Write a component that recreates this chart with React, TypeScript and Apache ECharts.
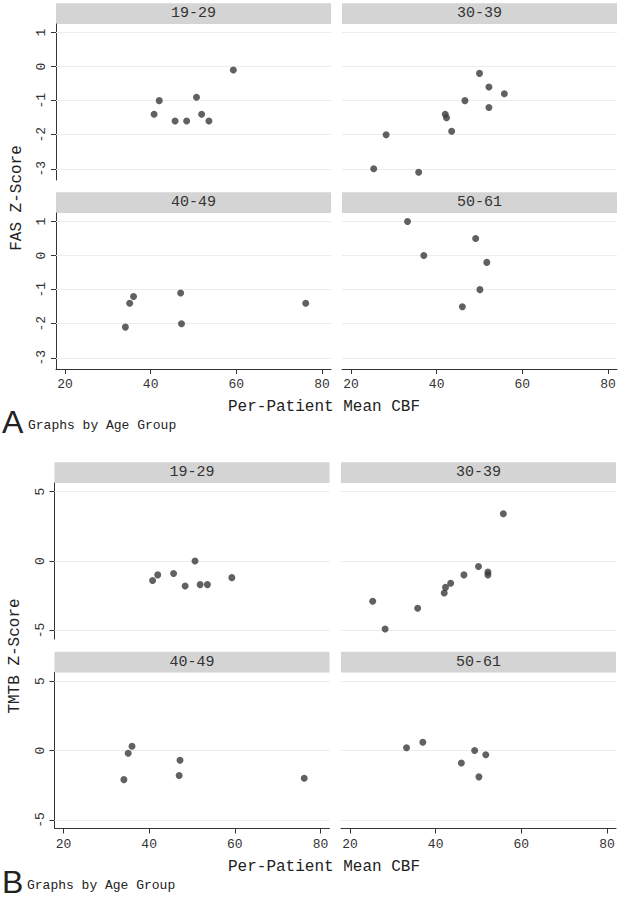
import React, { useEffect, useRef } from "react";
import * as echarts from "echarts";

// Age-group panels
const ageGroups = ["19-29", "30-39", "40-49", "50-61"];

// Per-patient mean CBF (x) for each age group
const cbf1929 = [40.8, 42.0, 45.7, 48.4, 50.7, 51.9, 53.6, 59.3];
const cbf3039 = [25.3, 28.2, 35.8, 42.0, 42.3, 43.5, 46.6, 50.0, 52.2, 52.2, 55.8];
const cbf4049 = [34.1, 35.1, 36.0, 47.0, 47.2, 76.2];
const cbf5061 = [33.2, 37.0, 46.0, 49.1, 50.1, 51.7];

// FAS Z-score (panel A)
const fas1929 = [-1.4, -1.0, -1.6, -1.6, -0.9, -1.4, -1.6, -0.1];
const fas3039 = [-3.0, -2.0, -3.1, -1.4, -1.5, -1.9, -1.0, -0.2, -0.6, -1.2, -0.8];
const fas4049 = [-2.1, -1.4, -1.2, -1.1, -2.0, -1.4];
const fas5061 = [1.0, 0.0, -1.5, 0.5, -1.0, -0.2];

// TMTB Z-score (panel B)
const tmtb1929 = [-1.4, -1.0, -0.9, -1.8, 0.0, -1.7, -1.7, -1.2];
const tmtb3039 = [-2.9, -4.9, -3.4, -2.3, -1.9, -1.6, -1.0, -0.4, -0.8, -1.0, 3.4];
const tmtb4049 = [-2.1, -0.2, 0.3, -1.8, -0.7, -2.0];
const tmtb5061 = [0.2, 0.6, -0.9, 0.0, -1.9, -0.3];

// Tick labels
const xTicks = [20, 40, 60, 80];
const fasTicks = [-3, -2, -1, 0, 1];
const tmtbTicks = [-5, 0, 5];

const cbfByGroup = [cbf1929, cbf3039, cbf4049, cbf5061];
const fasByGroup = [fas1929, fas3039, fas4049, fas5061];
const tmtbByGroup = [tmtb1929, tmtb3039, tmtb4049, tmtb5061];

const MONO = '"Liberation Mono", "Courier New", monospace';
const SANS = '"Liberation Sans", Arial, sans-serif';
const AXIS = "#333333";
const DOT = "#3a3a3a";
const GRID = "#ececec";
const STRIP = "#d4d4d4";

const X_MIN = 17.9;
const X_MAX = 82.1;
const PW = 275;
const PH = 156;

type PanelLayout = {
  left: number;
  top: number;
  group: number;
  measure: "fas" | "tmtb";
  leftCol: boolean;
  bottomRow: boolean;
};

const layouts: PanelLayout[] = [
  { left: 56, top: 24, group: 0, measure: "fas", leftCol: true, bottomRow: false },
  { left: 342, top: 24, group: 1, measure: "fas", leftCol: false, bottomRow: false },
  { left: 56, top: 213, group: 2, measure: "fas", leftCol: true, bottomRow: true },
  { left: 342, top: 213, group: 3, measure: "fas", leftCol: false, bottomRow: true },
  { left: 54.5, top: 483, group: 0, measure: "tmtb", leftCol: true, bottomRow: false },
  { left: 341, top: 483, group: 1, measure: "tmtb", leftCol: false, bottomRow: false },
  { left: 54.5, top: 672.5, group: 2, measure: "tmtb", leftCol: true, bottomRow: true },
  { left: 341, top: 672.5, group: 3, measure: "tmtb", leftCol: false, bottomRow: true },
];

function buildOption() {
  const grid: any[] = [];
  const xAxis: any[] = [];
  const yAxis: any[] = [];
  const series: any[] = [];
  const graphic: any[] = [];

  layouts.forEach((p, i) => {
    const isFas = p.measure === "fas";
    const yTicks = isFas ? fasTicks : tmtbTicks;
    const yMin = isFas ? -3.33 : -5.62;
    const yMax = isFas ? 1.25 : 5.62;
    const xs = cbfByGroup[p.group];
    const ys = isFas ? fasByGroup[p.group] : tmtbByGroup[p.group];

    grid.push({ left: p.left, top: p.top, width: PW, height: PH, containLabel: false });

    xAxis.push({
      type: "value",
      gridIndex: i,
      min: X_MIN,
      max: X_MAX,
      axisLine: { show: p.bottomRow, onZero: false, lineStyle: { color: AXIS, width: 1 } },
      axisTick: {
        show: p.bottomRow,
        customValues: xTicks,
        length: 5,
        lineStyle: { color: AXIS },
      },
      axisLabel: {
        show: p.bottomRow,
        customValues: xTicks,
        fontFamily: MONO,
        fontSize: 13,
        color: AXIS,
        margin: 9,
      },
      splitLine: { show: false },
    });

    yAxis.push({
      type: "value",
      gridIndex: i,
      min: yMin,
      max: yMax,
      axisLine: { show: p.leftCol, onZero: false, lineStyle: { color: AXIS, width: 1 } },
      axisTick: {
        show: p.leftCol,
        customValues: yTicks,
        length: 5,
        lineStyle: { color: AXIS },
      },
      axisLabel: {
        show: p.leftCol,
        customValues: yTicks,
        rotate: 90,
        fontFamily: MONO,
        fontSize: 13,
        color: AXIS,
        margin: 8,
      },
      splitLine: { show: false },
    });

    series.push({
      type: "scatter",
      xAxisIndex: i,
      yAxisIndex: i,
      symbol: "circle",
      symbolSize: 7,
      itemStyle: { color: DOT },
      data: xs.map((x, k) => [x, ys[k]]),
      z: 3,
      markLine: {
        silent: true,
        symbol: "none",
        label: { show: false },
        lineStyle: { color: GRID, width: 1, type: "solid" },
        z: 1,
        data: yTicks.map((v) => ({ yAxis: v })),
      },
    });

    // strip header
    graphic.push({
      type: "rect",
      shape: { x: p.left, y: p.top - 20.7, width: PW, height: 20.7 },
      style: { fill: STRIP },
      silent: true,
    });
    graphic.push({
      type: "text",
      x: p.left + PW / 2,
      y: p.top - 10.5,
      style: {
        text: ageGroups[p.group],
        font: `15px ${MONO}`,
        fill: AXIS,
        align: "center",
        verticalAlign: "middle",
      },
      silent: true,
    });
  });

  const addText = (text: string, x: number, y: number, font: string, rotation = 0, align = "center") => {
    graphic.push({
      type: "text",
      x,
      y,
      rotation,
      style: { text, font, fill: "#222", align, verticalAlign: "middle" },
      silent: true,
    });
  };

  addText("FAS Z-Score", 16.5, 198, `16px ${MONO}`, Math.PI / 2);
  addText("TMTB Z-Score", 15, 656, `16px ${MONO}`, Math.PI / 2);
  addText("Per-Patient Mean CBF", 324, 407, `16px ${MONO}`);
  addText("Per-Patient Mean CBF", 324, 867, `16px ${MONO}`);
  addText("A", 2, 422, `32px ${SANS}`, 0, "left");
  addText("Graphs by Age Group", 28, 425, `13px ${MONO}`, 0, "left");
  addText("B", 2, 882, `32px ${SANS}`, 0, "left");
  addText("Graphs by Age Group", 27, 885, `13px ${MONO}`, 0, "left");

  return {
    animation: false,
    backgroundColor: "#ffffff",
    grid,
    xAxis,
    yAxis,
    series,
    graphic,
  };
}

export default function App() {
  const ref = useRef<HTMLDivElement>(null);
  useEffect(() => {
    if (!ref.current) return;
    const chart = echarts.init(ref.current, null, { renderer: "svg" });
    chart.setOption(buildOption());
    return () => chart.dispose();
  }, []);
  return (
    <div
      ref={ref}
      style={{ position: "absolute", left: 0, top: 0, width: 621, height: 900, background: "#fff" }}
    />
  );
}
